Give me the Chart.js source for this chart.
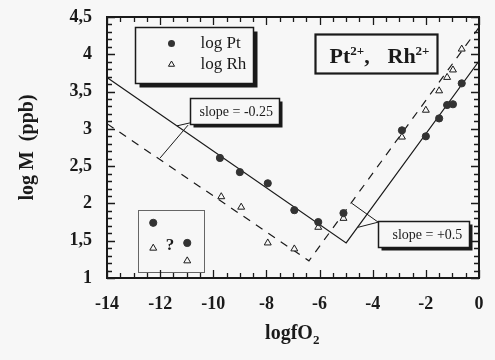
<!DOCTYPE html>
<html>
<head>
<meta charset="utf-8">
<script src="https://cdn.jsdelivr.net/npm/chart.js@4"></script>
<style>
  html, body { margin: 0; padding: 0; background: #f7f7f7; }
  #wrap { width: 495px; height: 360px; }
</style>
</head>
<body>
<div id="wrap"><canvas id="chart"></canvas></div>
<script>
// ---- data ----
const ptX = [-9.75, -9.0, -7.95, -6.95, -6.05, -5.1, -2.9, -2.0, -1.5, -1.2, -0.98, -0.65];
const ptY = [2.61, 2.42, 2.27, 1.91, 1.75, 1.87, 2.98, 2.90, 3.14, 3.32, 3.33, 3.61];
const rhX = [-9.7, -8.95, -7.95, -6.95, -6.05, -5.1, -2.9, -2.0, -1.5, -1.2, -0.98, -0.65];
const rhY = [2.09, 1.95, 1.47, 1.39, 1.68, 1.80, 2.89, 3.25, 3.51, 3.69, 3.79, 4.07];

// fitted lines (slope -0.25 / +0.5)
const ptFitX = [-14, -5.0, 0];
const ptFitY = [3.69, 1.47, 3.91];
const rhFitX = [-14, -6.4, 0];
const rhFitY = [3.07, 1.23, 4.36];

// small inset "?" box
const insetPtX = [-12.26, -10.98];
const insetPtY = [1.74, 1.47];
const insetRhX = [-12.26, -10.98];
const insetRhY = [1.40, 1.23];

const xTicks = [-14, -12, -10, -8, -6, -4, -2, 0];
const yTicks = [1, 1.5, 2, 2.5, 3, 3.5, 4, 4.5];

// ---- styling ----
const BG = '#f7f7f7';
const INK = '#1a1a1a';
const SERIF = "'Liberation Serif', 'Times New Roman', serif";

const pts = (xs, ys) => xs.map((x, i) => ({ x, y: ys[i] }));

// annotation boxes, in data units
const boxes = {
    legend: { x0: -12.95, x1: -8.5, y0: 3.62, y1: 4.37, shadow: 4, lw: 1.5 },
    ions: { x0: -6.17, x1: -1.58, y0: 3.75, y1: 4.27, shadow: 0, lw: 2.2 },
    slopeA: { x0: -10.88, x1: -7.53, y0: 3.07, y1: 3.41, shadow: 3, lw: 1.5 },
    slopeB: { x0: -3.80, x1: -0.38, y0: 1.42, y1: 1.76, shadow: 3, lw: 1.5 },
    inset: { x0: -12.83, x1: -10.35, y0: 1.08, y1: 1.91 }
};

const leaders = [
    [[-12.0, 2.61], [-10.95, 3.05]],
    [[-11.37, 3.04], [-10.88, 3.08]],
    [[-4.78, 2.0], [-3.8, 1.75]],
    [[-4.55, 1.68], [-3.78, 1.75]]
];

function boxPx(sx, sy, b) {
    return {
        x0: Math.round(sx.getPixelForValue(b.x0)) + 0.5,
        x1: Math.round(sx.getPixelForValue(b.x1)) + 0.5,
        y0: Math.round(sy.getPixelForValue(b.y1)) + 0.5,
        y1: Math.round(sy.getPixelForValue(b.y0)) + 0.5
    };
}

function drawBox(ctx, sx, sy, b) {
    const r = boxPx(sx, sy, b);
    if (b.shadow) {
        ctx.fillStyle = INK;
        ctx.fillRect(r.x0 + b.shadow, r.y0 + b.shadow, r.x1 - r.x0, r.y1 - r.y0);
    }
    ctx.fillStyle = BG;
    ctx.fillRect(r.x0, r.y0, r.x1 - r.x0, r.y1 - r.y0);
    ctx.lineWidth = b.lw;
    ctx.strokeStyle = INK;
    ctx.strokeRect(r.x0, r.y0, r.x1 - r.x0, r.y1 - r.y0);
    ctx.fillStyle = INK;
    return r;
}

function marker(ctx, style, x, y, r) {
    ctx.beginPath();
    if (style === 'circle') {
        ctx.arc(x, y, r, 0, Math.PI * 2);
        ctx.fillStyle = '#333';
        ctx.fill();
    } else {
        ctx.moveTo(x, y - r);
        ctx.lineTo(x + r * 0.87, y + r * 0.5);
        ctx.lineTo(x - r * 0.87, y + r * 0.5);
        ctx.closePath();
        ctx.lineWidth = 1;
        ctx.strokeStyle = INK;
        ctx.stroke();
    }
}

const paperPlugin = {
    id: 'paper',
    afterDatasetsDraw(chart) {
        const { ctx, scales: { x: sx, y: sy } } = chart;
        ctx.save();

        // leader lines to the slope labels
        ctx.strokeStyle = INK;
        ctx.lineWidth = 1;
        leaders.forEach(([a, b]) => {
            ctx.beginPath();
            ctx.moveTo(sx.getPixelForValue(a[0]), sy.getPixelForValue(a[1]));
            ctx.lineTo(sx.getPixelForValue(b[0]), sy.getPixelForValue(b[1]));
            ctx.stroke();
        });

        // legend
        let r = drawBox(ctx, sx, sy, boxes.legend);
        marker(ctx, 'circle', r.x0 + 36, r.y0 + 16, 3.5);
        marker(ctx, 'triangle', r.x0 + 36, r.y0 + 37, 3.5);
        ctx.fillStyle = INK;
        ctx.font = `17px ${SERIF}`;
        ctx.textBaseline = 'middle';
        ctx.fillText('log Pt', r.x0 + 65, r.y0 + 16);
        ctx.fillText('log Rh', r.x0 + 65, r.y0 + 37);

        // ions label
        r = drawBox(ctx, sx, sy, boxes.ions);
        ctx.textBaseline = 'alphabetic';
        let tx = r.x0 + 14;
        const base = r.y0 + 28;
        const big = `bold 22px ${SERIF}`, sup = `bold 13px ${SERIF}`;
        ctx.font = big; ctx.fillText('Pt', tx, base); tx += ctx.measureText('Pt').width;
        ctx.font = sup; ctx.fillText('2+', tx, base - 8); tx += ctx.measureText('2+').width;
        ctx.font = big; ctx.fillText(',', tx, base);
        tx = r.x0 + 72;
        ctx.fillText('Rh', tx, base); tx += ctx.measureText('Rh').width;
        ctx.font = sup; ctx.fillText('2+', tx, base - 8);

        // slope labels
        ctx.font = `14px ${SERIF}`;
        ctx.textBaseline = 'middle';
        r = drawBox(ctx, sx, sy, boxes.slopeA);
        ctx.fillText('slope = -0.25', r.x0 + 9, (r.y0 + r.y1) / 2 + 1);
        r = drawBox(ctx, sx, sy, boxes.slopeB);
        ctx.fillText('slope = +0.5', r.x0 + 14, (r.y0 + r.y1) / 2 + 1);

        // inset box with question mark
        r = boxPx(sx, sy, boxes.inset);
        ctx.lineWidth = 1;
        ctx.strokeStyle = '#666';
        ctx.strokeRect(r.x0, r.y0, r.x1 - r.x0, r.y1 - r.y0);
        ctx.fillStyle = INK;
        ctx.font = `bold 17px ${SERIF}`;
        ctx.textAlign = 'center';
        ctx.fillText('?', sx.getPixelForValue(-11.63), sy.getPixelForValue(1.44));

        ctx.restore();
    },
    afterDraw(chart) {
        const { ctx, chartArea: { left, right, top, bottom }, scales: { x: sx, y: sy } } = chart;
        ctx.save();
        ctx.strokeStyle = INK;

        // ticks, all sides, pointing inwards
        ctx.lineWidth = 1.3;
        ctx.beginPath();
        for (let i = 0; i <= 28; i++) {
            const px = Math.round(sx.getPixelForValue(-14 + i * 0.5)) + 0.5;
            const len = i % 4 === 0 ? 8 : 5;
            ctx.moveTo(px, bottom); ctx.lineTo(px, bottom - len);
            ctx.moveTo(px, top); ctx.lineTo(px, top + len);
        }
        for (let i = 0; i <= 35; i++) {
            const py = Math.round(sy.getPixelForValue(1 + i * 0.1)) + 0.5;
            const len = i % 5 === 0 ? 8 : 5;
            ctx.moveTo(left, py); ctx.lineTo(left + len, py);
            ctx.moveTo(right, py); ctx.lineTo(right - len, py);
        }
        ctx.stroke();

        // frame
        ctx.lineWidth = 2;
        ctx.strokeRect(left, top, right - left, bottom - top);

        // axis titles
        ctx.fillStyle = INK;
        ctx.textBaseline = 'alphabetic';
        ctx.font = `bold 20px ${SERIF}`;
        const main = 'logfO';
        const w = ctx.measureText(main).width;
        const cx = (left + right) / 2 - 4;
        ctx.fillText(main, cx - w / 2, 339);
        ctx.font = `bold 13px ${SERIF}`;
        ctx.fillText('2', cx + w / 2, 344);

        ctx.font = `bold 20px ${SERIF}`;
        ctx.translate(33, (top + bottom) / 2);
        ctx.rotate(-Math.PI / 2);
        ctx.textAlign = 'center';
        ctx.fillText('log M  (ppb)', 0, 0);
        ctx.restore();
    }
};

new Chart(document.getElementById('chart'), {
    type: 'scatter',
    data: {
        datasets: [
            {
                label: 'log Pt',
                data: pts(ptX, ptY),
                pointStyle: 'circle',
                pointRadius: 3.6,
                backgroundColor: '#333',
                borderColor: '#333'
            },
            {
                label: 'log Rh',
                data: pts(rhX, rhY),
                pointStyle: 'triangle',
                pointRadius: 4,
                borderWidth: 1,
                backgroundColor: BG,
                borderColor: INK
            },
            {
                label: 'inset Pt',
                data: pts(insetPtX, insetPtY),
                pointStyle: 'circle',
                pointRadius: 3.6,
                backgroundColor: '#333',
                borderColor: '#333'
            },
            {
                label: 'inset Rh',
                data: pts(insetRhX, insetRhY),
                pointStyle: 'triangle',
                pointRadius: 4,
                borderWidth: 1,
                backgroundColor: BG,
                borderColor: INK
            },
            {
                label: 'Pt fit',
                data: pts(ptFitX, ptFitY),
                showLine: true,
                pointRadius: 0,
                borderWidth: 1.2,
                borderColor: INK
            },
            {
                label: 'Rh fit',
                data: pts(rhFitX, rhFitY),
                showLine: true,
                pointRadius: 0,
                borderWidth: 1.2,
                borderDash: [8, 7],
                borderColor: INK
            }
        ]
    },
    options: {
        responsive: true,
        maintainAspectRatio: false,
        animation: false,
        layout: { padding: { top: 17, right: 16, left: 0, bottom: 0 } },
        plugins: {
            legend: { display: false },
            tooltip: { enabled: false }
        },
        scales: {
            x: {
                type: 'linear',
                min: -14,
                max: 0,
                afterBuildTicks: s => { s.ticks = xTicks.map(v => ({ value: v })); },
                afterFit: s => { s.height = 82; s.paddingLeft = 0; s.paddingRight = 0; },
                grid: { display: false, drawTicks: false },
                border: { display: false },
                ticks: {
                    padding: 16,
                    color: INK,
                    font: { family: SERIF, size: 18, weight: 'bold' },
                    callback: v => String(v)
                }
            },
            y: {
                type: 'linear',
                min: 1,
                max: 4.5,
                afterBuildTicks: s => { s.ticks = yTicks.map(v => ({ value: v })); },
                afterFit: s => { s.width = 107; s.paddingTop = 0; s.paddingBottom = 0; },
                grid: { display: false, drawTicks: false },
                border: { display: false },
                ticks: {
                    padding: 15,
                    color: INK,
                    font: { family: SERIF, size: 18, weight: 'bold' },
                    callback: v => String(v).replace('.', ',')
                }
            }
        }
    },
    plugins: [paperPlugin]
});
</script>
</body>
</html>
